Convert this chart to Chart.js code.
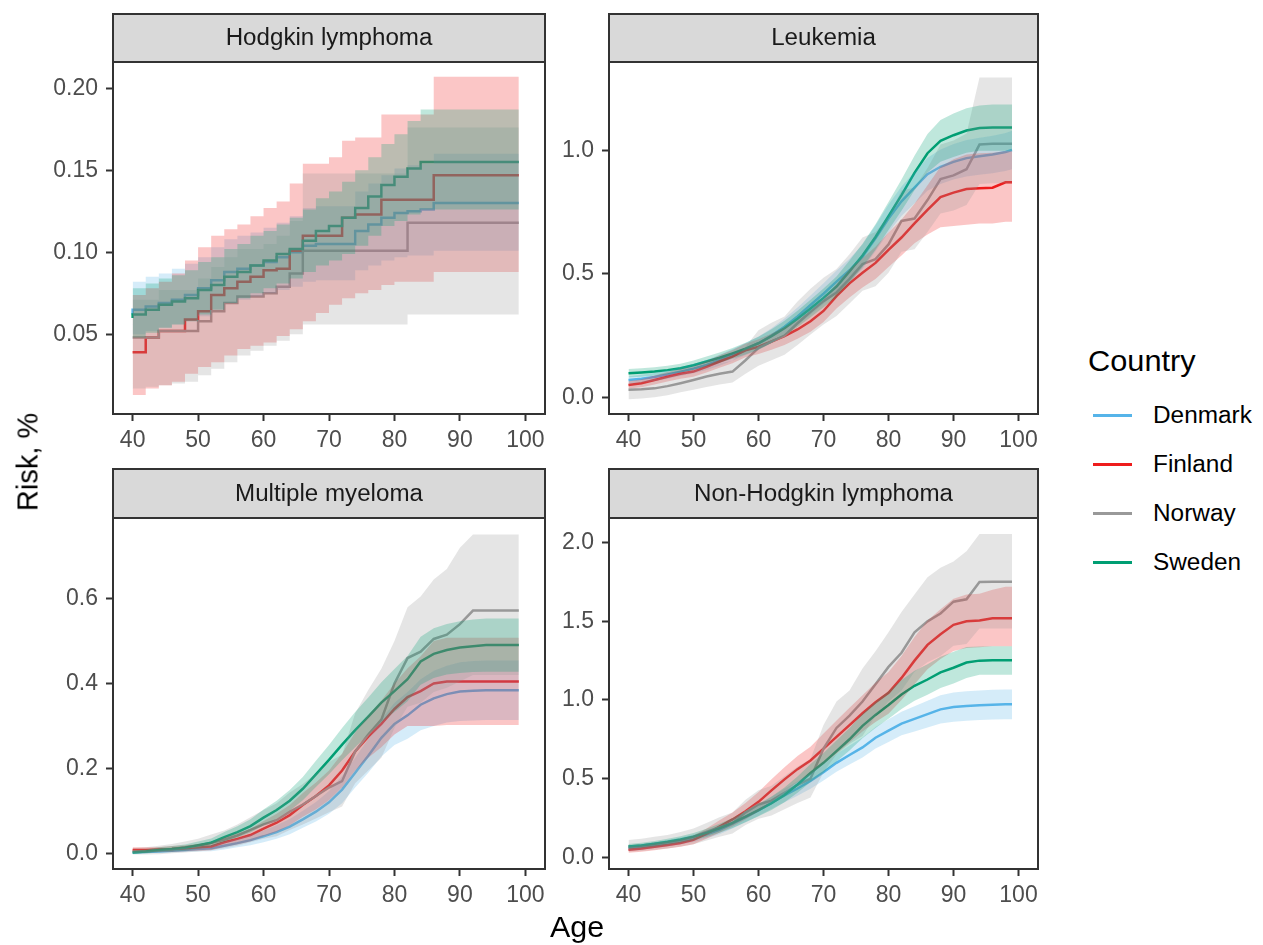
<!DOCTYPE html>
<html>
<head>
<meta charset="utf-8">
<title>Cumulative risk by age and country</title>
<script src="https://cdn.jsdelivr.net/npm/chart.js@4/dist/chart.umd.min.js"></script>
<style>
  body { margin: 0; background: #ffffff; }
  #fig { position: relative; width: 1263px; height: 945px; overflow: hidden;
         font-family: 'Liberation Sans', Arial, Helvetica, sans-serif; background: #ffffff; }
  #fig canvas { position: absolute; }
  .txt { position: absolute; white-space: nowrap; line-height: 1; color: #000; }
  .key { position: absolute; height: 3px; width: 39px; }
</style>
</head>
<body>
<div id="fig">
  <canvas id="c1" width="555" height="465" style="left:0px;top:0px"></canvas>
  <canvas id="c2" width="512" height="465" style="left:548px;top:0px"></canvas>
  <canvas id="c3" width="555" height="480" style="left:0px;top:465px"></canvas>
  <canvas id="c4" width="512" height="480" style="left:548px;top:465px"></canvas>
  <div class="txt" id="ylab" style="font-size:29px;left:28px;top:462px;transform:translate(-50%,-50%) rotate(-90deg);">Risk, %</div>
  <div class="txt" id="xlab" style="font-size:29px;left:577px;top:927px;transform:translate(-50%,-50%) scaleX(1.05);">Age</div>
  <div id="legend"></div>
</div>
<script>
// ---- shared axes and groups ----
const ages = [40, 42, 44, 46, 48, 50, 52, 54, 56, 58, 60, 62, 64, 66, 68, 70, 72, 74, 76, 78, 80, 82, 84, 86, 88, 90, 92, 94, 96, 98, 99];
const xTicks = [40, 50, 60, 70, 80, 90, 100];
const countries = ['Denmark', 'Finland', 'Norway', 'Sweden'];
const countryColors = ['#56B4E9', '#EE1C1C', '#999999', '#009E73'];

// ---- Hodgkin lymphoma ----
const hodgkinDenmark     = [0.062,0.065,0.067,0.069,0.071,0.074,0.078,0.083,0.088,0.090,0.092,0.094,0.097,0.100,0.104,0.105,0.105,0.105,0.113,0.117,0.121,0.124,0.125,0.126,0.130,0.130,0.130,0.130,0.130,0.130,0.130];
const hodgkinDenmarkLow  = [0.048,0.050,0.052,0.054,0.056,0.058,0.061,0.065,0.069,0.071,0.073,0.075,0.077,0.079,0.082,0.083,0.083,0.083,0.089,0.092,0.095,0.097,0.098,0.098,0.101,0.101,0.101,0.101,0.101,0.101,0.101];
const hodgkinDenmarkHigh = [0.079,0.082,0.085,0.087,0.090,0.093,0.097,0.103,0.108,0.110,0.112,0.115,0.118,0.122,0.127,0.128,0.128,0.128,0.137,0.142,0.147,0.151,0.153,0.154,0.160,0.160,0.160,0.160,0.160,0.160,0.160];
const hodgkinFinland     = [0.039,0.039,0.048,0.052,0.052,0.059,0.064,0.074,0.078,0.082,0.085,0.089,0.090,0.101,0.110,0.110,0.110,0.121,0.123,0.123,0.132,0.132,0.132,0.132,0.147,0.147,0.147,0.147,0.147,0.147,0.147];
const hodgkinFinlandLow  = [0.010,0.013,0.017,0.019,0.021,0.026,0.030,0.033,0.037,0.041,0.043,0.045,0.049,0.053,0.058,0.063,0.068,0.072,0.075,0.077,0.080,0.082,0.082,0.082,0.088,0.088,0.088,0.088,0.088,0.088,0.088];
const hodgkinFinlandHigh = [0.072,0.074,0.078,0.082,0.087,0.095,0.103,0.110,0.114,0.117,0.122,0.127,0.131,0.142,0.154,0.154,0.158,0.168,0.170,0.170,0.184,0.184,0.184,0.184,0.207,0.207,0.207,0.207,0.207,0.207,0.207];
const hodgkinNorway      = [0.048,0.048,0.048,0.052,0.052,0.052,0.058,0.064,0.069,0.073,0.073,0.075,0.079,0.087,0.101,0.101,0.101,0.101,0.101,0.101,0.101,0.101,0.118,0.118,0.118,0.118,0.118,0.118,0.118,0.118,0.118];
const hodgkinNorwayLow   = [0.016,0.017,0.018,0.019,0.020,0.021,0.025,0.029,0.033,0.037,0.040,0.043,0.046,0.050,0.056,0.056,0.056,0.056,0.056,0.056,0.056,0.056,0.062,0.062,0.062,0.062,0.062,0.062,0.062,0.062,0.062];
const hodgkinNorwayHigh  = [0.071,0.071,0.071,0.077,0.077,0.077,0.084,0.091,0.097,0.102,0.102,0.105,0.110,0.119,0.148,0.148,0.148,0.148,0.148,0.148,0.148,0.148,0.176,0.176,0.176,0.176,0.176,0.176,0.176,0.176,0.176];
const hodgkinSweden      = [0.060,0.062,0.065,0.068,0.070,0.072,0.077,0.080,0.085,0.088,0.092,0.095,0.099,0.102,0.107,0.113,0.116,0.121,0.127,0.134,0.141,0.146,0.151,0.155,0.155,0.155,0.155,0.155,0.155,0.155,0.155];
const hodgkinSwedenLow   = [0.046,0.048,0.051,0.054,0.056,0.058,0.062,0.065,0.069,0.072,0.075,0.078,0.081,0.084,0.088,0.092,0.095,0.099,0.104,0.110,0.116,0.119,0.123,0.126,0.126,0.126,0.126,0.126,0.126,0.126,0.126];
const hodgkinSwedenHigh  = [0.076,0.078,0.081,0.084,0.086,0.089,0.094,0.097,0.102,0.105,0.110,0.113,0.117,0.121,0.126,0.133,0.137,0.143,0.150,0.158,0.166,0.172,0.180,0.187,0.187,0.187,0.187,0.187,0.187,0.187,0.187];
const hodgkinYTicks  = [0.05, 0.10, 0.15, 0.20];
const hodgkinYLabels = ['0.05', '0.10', '0.15', '0.20'];

// ---- Leukemia ----
const leukemiaDenmark     = [0.070,0.075,0.082,0.092,0.104,0.116,0.131,0.150,0.172,0.195,0.219,0.250,0.286,0.328,0.374,0.420,0.469,0.515,0.570,0.645,0.725,0.795,0.850,0.905,0.935,0.955,0.970,0.978,0.985,0.995,1.003];
const leukemiaDenmarkLow  = [0.055,0.060,0.066,0.075,0.086,0.097,0.111,0.128,0.148,0.170,0.192,0.220,0.253,0.292,0.335,0.378,0.424,0.468,0.520,0.592,0.668,0.735,0.786,0.838,0.865,0.883,0.896,0.903,0.909,0.918,0.925];
const leukemiaDenmarkHigh = [0.085,0.091,0.098,0.109,0.122,0.135,0.151,0.172,0.196,0.220,0.246,0.280,0.319,0.364,0.413,0.462,0.514,0.562,0.620,0.698,0.782,0.855,0.914,0.972,1.005,1.027,1.044,1.053,1.061,1.072,1.081];
const leukemiaFinland     = [0.050,0.057,0.070,0.083,0.095,0.104,0.123,0.145,0.165,0.190,0.205,0.226,0.248,0.275,0.308,0.350,0.410,0.462,0.505,0.545,0.598,0.648,0.705,0.760,0.812,0.830,0.845,0.848,0.850,0.872,0.872];
const leukemiaFinlandLow  = [0.035,0.041,0.052,0.064,0.075,0.083,0.100,0.120,0.138,0.162,0.175,0.193,0.212,0.237,0.266,0.305,0.360,0.405,0.445,0.480,0.528,0.575,0.625,0.660,0.690,0.695,0.700,0.705,0.705,0.712,0.712];
const leukemiaFinlandHigh = [0.065,0.073,0.088,0.102,0.115,0.125,0.146,0.170,0.192,0.218,0.235,0.259,0.284,0.313,0.350,0.395,0.460,0.519,0.565,0.610,0.668,0.721,0.785,0.860,0.935,0.965,0.985,0.990,0.992,0.998,0.998];
const leukemiaNorway      = [0.030,0.032,0.036,0.045,0.057,0.070,0.084,0.095,0.104,0.150,0.200,0.226,0.250,0.300,0.347,0.390,0.425,0.480,0.540,0.560,0.620,0.715,0.725,0.800,0.885,0.900,0.925,1.025,1.028,1.028,1.028];
const leukemiaNorwayLow   = [-0.008,-0.005,0.000,0.008,0.020,0.030,0.042,0.052,0.060,0.095,0.128,0.150,0.172,0.212,0.255,0.295,0.330,0.380,0.432,0.450,0.505,0.590,0.600,0.670,0.745,0.758,0.780,0.865,0.868,0.868,0.868];
const leukemiaNorwayHigh  = [0.068,0.070,0.074,0.084,0.096,0.110,0.126,0.138,0.148,0.205,0.272,0.302,0.328,0.388,0.440,0.485,0.520,0.580,0.648,0.670,0.735,0.840,0.850,0.930,1.025,1.042,1.070,1.297,1.297,1.297,1.297];
const leukemiaSweden      = [0.097,0.100,0.104,0.110,0.118,0.130,0.145,0.160,0.178,0.197,0.219,0.248,0.280,0.318,0.360,0.403,0.449,0.510,0.575,0.650,0.735,0.820,0.910,0.990,1.040,1.063,1.082,1.092,1.094,1.094,1.094];
const leukemiaSwedenLow   = [0.080,0.083,0.087,0.093,0.100,0.111,0.125,0.139,0.156,0.173,0.193,0.220,0.250,0.285,0.325,0.365,0.408,0.465,0.527,0.598,0.678,0.757,0.840,0.912,0.955,0.975,0.992,1.000,1.000,1.000,1.000];
const leukemiaSwedenHigh  = [0.115,0.118,0.122,0.128,0.136,0.149,0.165,0.181,0.200,0.221,0.245,0.276,0.310,0.351,0.395,0.441,0.490,0.555,0.623,0.702,0.792,0.883,0.980,1.068,1.125,1.151,1.172,1.184,1.188,1.188,1.188];
const leukemiaYTicks  = [0.0, 0.5, 1.0];
const leukemiaYLabels = ['0.0', '0.5', '1.0'];

// ---- Multiple myeloma ----
const myelomaDenmark     = [0.002,0.003,0.004,0.006,0.008,0.010,0.012,0.018,0.024,0.031,0.040,0.050,0.063,0.080,0.098,0.120,0.150,0.190,0.230,0.272,0.305,0.325,0.350,0.365,0.375,0.381,0.383,0.384,0.384,0.384,0.384];
const myelomaDenmarkLow  = [0.000,0.001,0.001,0.002,0.003,0.004,0.005,0.009,0.014,0.019,0.026,0.034,0.045,0.060,0.075,0.093,0.118,0.155,0.190,0.228,0.255,0.270,0.290,0.300,0.308,0.312,0.313,0.314,0.314,0.314,0.314];
const myelomaDenmarkHigh = [0.004,0.005,0.007,0.010,0.013,0.016,0.019,0.027,0.034,0.043,0.054,0.066,0.081,0.100,0.121,0.147,0.182,0.225,0.270,0.316,0.355,0.380,0.410,0.430,0.442,0.450,0.453,0.454,0.454,0.454,0.454];
const myelomaFinland     = [0.008,0.008,0.009,0.010,0.012,0.014,0.016,0.026,0.034,0.043,0.058,0.072,0.090,0.114,0.135,0.160,0.195,0.240,0.275,0.305,0.340,0.368,0.382,0.400,0.405,0.405,0.405,0.405,0.405,0.405,0.405];
const myelomaFinlandLow  = [0.002,0.002,0.003,0.003,0.005,0.006,0.007,0.015,0.021,0.028,0.040,0.051,0.066,0.086,0.103,0.125,0.155,0.195,0.225,0.250,0.280,0.300,0.300,0.300,0.302,0.302,0.302,0.302,0.302,0.302,0.302];
const myelomaFinlandHigh = [0.014,0.014,0.015,0.017,0.019,0.022,0.025,0.037,0.047,0.058,0.076,0.093,0.114,0.142,0.167,0.195,0.235,0.285,0.325,0.360,0.400,0.436,0.464,0.500,0.508,0.508,0.508,0.508,0.508,0.508,0.508];
const myelomaNorway      = [0.004,0.005,0.007,0.010,0.014,0.018,0.025,0.032,0.042,0.055,0.068,0.078,0.098,0.115,0.135,0.155,0.170,0.240,0.280,0.315,0.400,0.460,0.475,0.505,0.515,0.540,0.572,0.572,0.572,0.572,0.572];
const myelomaNorwayLow   = [-0.003,-0.003,-0.002,0.000,0.002,0.004,0.008,0.012,0.018,0.026,0.034,0.040,0.055,0.068,0.082,0.097,0.110,0.165,0.195,0.225,0.295,0.345,0.355,0.380,0.390,0.405,0.420,0.420,0.420,0.420,0.420];
const myelomaNorwayHigh  = [0.012,0.014,0.018,0.022,0.028,0.034,0.044,0.054,0.068,0.085,0.102,0.118,0.143,0.163,0.188,0.215,0.233,0.330,0.385,0.435,0.500,0.580,0.605,0.645,0.670,0.720,0.751,0.751,0.751,0.751,0.751];
const myelomaSweden      = [0.002,0.004,0.008,0.010,0.013,0.019,0.025,0.038,0.050,0.064,0.084,0.102,0.124,0.152,0.186,0.220,0.256,0.290,0.322,0.355,0.382,0.410,0.452,0.470,0.479,0.485,0.488,0.491,0.491,0.491,0.491];
const myelomaSwedenLow   = [-0.001,0.000,0.003,0.004,0.006,0.011,0.016,0.027,0.037,0.049,0.066,0.081,0.100,0.125,0.156,0.186,0.219,0.250,0.280,0.309,0.333,0.358,0.397,0.413,0.421,0.425,0.427,0.428,0.428,0.428,0.428];
const myelomaSwedenHigh  = [0.006,0.009,0.014,0.017,0.021,0.028,0.035,0.050,0.064,0.080,0.103,0.124,0.149,0.180,0.218,0.255,0.295,0.333,0.367,0.403,0.434,0.465,0.510,0.530,0.540,0.547,0.551,0.553,0.553,0.553,0.553];
const myelomaYTicks  = [0.0, 0.2, 0.4, 0.6];
const myelomaYLabels = ['0.0', '0.2', '0.4', '0.6'];

// ---- Non-Hodgkin lymphoma ----
const nhlDenmark     = [0.057,0.066,0.077,0.089,0.104,0.121,0.146,0.174,0.214,0.255,0.298,0.345,0.393,0.437,0.485,0.540,0.600,0.650,0.698,0.760,0.805,0.850,0.880,0.910,0.940,0.955,0.962,0.966,0.970,0.972,0.972];
const nhlDenmarkLow  = [0.040,0.048,0.058,0.068,0.082,0.097,0.120,0.146,0.183,0.222,0.262,0.306,0.350,0.391,0.436,0.487,0.543,0.590,0.634,0.692,0.733,0.775,0.800,0.825,0.850,0.862,0.868,0.872,0.875,0.877,0.877];
const nhlDenmarkHigh = [0.074,0.084,0.096,0.110,0.126,0.145,0.172,0.202,0.245,0.288,0.334,0.384,0.436,0.483,0.534,0.593,0.657,0.710,0.762,0.828,0.877,0.925,0.960,0.995,1.030,1.048,1.056,1.060,1.065,1.067,1.067];
const nhlFinland     = [0.047,0.055,0.066,0.078,0.090,0.110,0.150,0.195,0.240,0.292,0.352,0.425,0.495,0.560,0.615,0.690,0.765,0.840,0.915,0.985,1.045,1.140,1.250,1.350,1.418,1.478,1.500,1.505,1.520,1.520,1.520];
const nhlFinlandLow  = [0.028,0.035,0.045,0.055,0.066,0.083,0.118,0.155,0.195,0.240,0.290,0.355,0.418,0.476,0.527,0.593,0.660,0.730,0.800,0.860,0.912,1.000,1.100,1.195,1.260,1.312,1.330,1.335,1.342,1.342,1.342];
const nhlFinlandHigh = [0.066,0.075,0.087,0.101,0.114,0.137,0.182,0.235,0.285,0.344,0.414,0.495,0.572,0.644,0.703,0.787,0.870,0.950,1.030,1.110,1.178,1.280,1.400,1.505,1.576,1.644,1.670,1.675,1.700,1.720,1.720];
const nhlNorway      = [0.068,0.075,0.085,0.095,0.110,0.130,0.160,0.190,0.215,0.285,0.335,0.360,0.410,0.460,0.500,0.690,0.822,0.900,0.990,1.100,1.210,1.300,1.430,1.500,1.550,1.625,1.640,1.750,1.752,1.752,1.752];
const nhlNorwayLow   = [0.035,0.040,0.048,0.056,0.068,0.083,0.106,0.130,0.150,0.205,0.245,0.265,0.305,0.345,0.380,0.540,0.655,0.720,0.770,0.900,0.990,1.060,1.180,1.240,1.280,1.345,1.355,1.455,1.455,1.455,1.455];
const nhlNorwayHigh  = [0.110,0.118,0.130,0.142,0.160,0.183,0.218,0.254,0.284,0.365,0.425,0.455,0.515,0.575,0.625,0.840,0.990,1.060,1.200,1.310,1.430,1.560,1.670,1.780,1.840,1.880,1.945,2.055,2.055,2.055,2.055];
const nhlSweden      = [0.068,0.075,0.085,0.098,0.113,0.131,0.155,0.184,0.218,0.258,0.300,0.343,0.396,0.462,0.535,0.600,0.675,0.750,0.835,0.905,0.968,1.035,1.090,1.130,1.175,1.205,1.238,1.250,1.252,1.252,1.252];
const nhlSwedenLow   = [0.052,0.058,0.067,0.079,0.092,0.108,0.129,0.155,0.186,0.222,0.261,0.300,0.349,0.410,0.478,0.538,0.608,0.678,0.757,0.822,0.880,0.943,0.995,1.033,1.076,1.104,1.140,1.160,1.160,1.160,1.160];
const nhlSwedenHigh  = [0.084,0.092,0.103,0.117,0.134,0.154,0.181,0.213,0.250,0.294,0.339,0.386,0.443,0.514,0.592,0.662,0.742,0.822,0.913,0.988,1.056,1.127,1.185,1.227,1.274,1.306,1.336,1.340,1.342,1.342,1.342];
const nhlYTicks  = [0.0, 0.5, 1.0, 1.5, 2.0];
const nhlYLabels = ['0.0', '0.5', '1.0', '1.5', '2.0'];

// ---- drawing ----
const FONT = "'Liberation Sans', Arial, Helvetica, sans-serif";
const INK = '#333333';
Chart.defaults.font.family = FONT;

function rgba(hex, a) {
  const n = parseInt(hex.slice(1), 16);
  return 'rgba(' + ((n >> 16) & 255) + ',' + ((n >> 8) & 255) + ',' + (n & 255) + ',' + a + ')';
}

const facets = [
  { id: 'c1', title: 'Hodgkin lymphoma', stepped: 'after', yMin: 0.0014, yMax: 0.216,
    yTicks: hodgkinYTicks, yLabels: hodgkinYLabels,
    series: [[hodgkinDenmark, hodgkinDenmarkLow, hodgkinDenmarkHigh],
             [hodgkinFinland, hodgkinFinlandLow, hodgkinFinlandHigh],
             [hodgkinNorway, hodgkinNorwayLow, hodgkinNorwayHigh],
             [hodgkinSweden, hodgkinSwedenLow, hodgkinSwedenHigh]],
    box: { yAxisW: 113, padTop: 62, padRight: 10, xAxisH: 51, stripH: 48 } },
  { id: 'c2', title: 'Leukemia', stepped: false, yMin: -0.068, yMax: 1.36,
    yTicks: leukemiaYTicks, yLabels: leukemiaYLabels,
    series: [[leukemiaDenmark, leukemiaDenmarkLow, leukemiaDenmarkHigh],
             [leukemiaFinland, leukemiaFinlandLow, leukemiaFinlandHigh],
             [leukemiaNorway, leukemiaNorwayLow, leukemiaNorwayHigh],
             [leukemiaSweden, leukemiaSwedenLow, leukemiaSwedenHigh]],
    box: { yAxisW: 61, padTop: 62, padRight: 22, xAxisH: 51, stripH: 48 } },
  { id: 'c3', title: 'Multiple myeloma', stepped: false, yMin: -0.037, yMax: 0.79,
    yTicks: myelomaYTicks, yLabels: myelomaYLabels,
    series: [[myelomaDenmark, myelomaDenmarkLow, myelomaDenmarkHigh],
             [myelomaFinland, myelomaFinlandLow, myelomaFinlandHigh],
             [myelomaNorway, myelomaNorwayLow, myelomaNorwayHigh],
             [myelomaSweden, myelomaSwedenLow, myelomaSwedenHigh]],
    box: { yAxisW: 113, padTop: 53, padRight: 10, xAxisH: 76, stripH: 49 } },
  { id: 'c4', title: 'Non-Hodgkin lymphoma', stepped: false, yMin: -0.075, yMax: 2.157,
    yTicks: nhlYTicks, yLabels: nhlYLabels,
    series: [[nhlDenmark, nhlDenmarkLow, nhlDenmarkHigh],
             [nhlFinland, nhlFinlandLow, nhlFinlandHigh],
             [nhlNorway, nhlNorwayLow, nhlNorwayHigh],
             [nhlSweden, nhlSwedenLow, nhlSwedenHigh]],
    box: { yAxisW: 61, padTop: 53, padRight: 22, xAxisH: 76, stripH: 49 } }
];

function points(values) {
  return ages.map((a, i) => ({ x: a, y: values[i] }));
}

function buildDatasets(f) {
  const ds = [];
  // confidence bands: lower edge, then upper edge filled down to it
  f.series.forEach((s, k) => {
    const c = countryColors[k];
    ds.push({ label: countries[k] + ' lower', data: points(s[1]), borderColor: 'transparent',
              borderWidth: 0, pointRadius: 0, fill: false, stepped: f.stepped, order: 4 - k });
    ds.push({ label: countries[k] + ' upper', data: points(s[2]), borderColor: 'transparent',
              borderWidth: 0, pointRadius: 0, fill: '-1', backgroundColor: rgba(c, 0.25),
              stepped: f.stepped, order: 4 - k });
  });
  // risk curves sit under the bands, Denmark first
  f.series.forEach((s, k) => {
    ds.push({ label: countries[k], data: points(s[0]), borderColor: countryColors[k],
              borderWidth: 2.5, pointRadius: 0, fill: false, stepped: f.stepped, order: 8 - k });
  });
  return ds;
}

function stripPlugin(title, stripH) {
  return {
    id: 'facetStrip',
    afterDraw(chart) {
      const a = chart.chartArea;
      const ctx = chart.ctx;
      ctx.save();
      ctx.lineWidth = 2;
      ctx.strokeStyle = INK;
      // panel frame
      ctx.strokeRect(a.left, a.top, a.right - a.left, a.bottom - a.top);
      // strip
      ctx.fillStyle = '#D9D9D9';
      ctx.fillRect(a.left, a.top - stripH, a.right - a.left, stripH);
      ctx.strokeRect(a.left, a.top - stripH, a.right - a.left, stripH);
      ctx.fillStyle = '#1A1A1A';
      ctx.font = '23px ' + FONT;
      ctx.textAlign = 'center';
      ctx.textBaseline = 'middle';
      ctx.translate((a.left + a.right) / 2, a.top - stripH / 2 + 1);
      ctx.scale(1.05, 1);
      ctx.fillText(title, 0, 0);
      ctx.restore();
    }
  };
}

facets.forEach(f => {
  const b = f.box;
  new Chart(document.getElementById(f.id), {
    type: 'line',
    data: { datasets: buildDatasets(f) },
    plugins: [stripPlugin(f.title, b.stripH)],
    options: {
      responsive: false,
      animation: false,
      devicePixelRatio: 1,
      layout: { padding: { top: b.padTop, right: b.padRight, left: 0, bottom: 0 } },
      plugins: { legend: { display: false }, tooltip: { enabled: false } },
      elements: { point: { radius: 0 }, line: { tension: 0 } },
      scales: {
        x: {
          type: 'linear', min: 37, max: 103,
          afterBuildTicks: s => { s.ticks = xTicks.map(v => ({ value: v })); },
          afterFit: s => { s.height = b.xAxisH; s.paddingLeft = 0; s.paddingRight = 0; },
          ticks: { color: '#4D4D4D', font: { size: 23 }, padding: 6, maxRotation: 0, autoSkip: false,
                   callback: v => String(v) },
          grid: { display: true, drawOnChartArea: false, drawTicks: true, tickLength: 7,
                  tickWidth: 2, tickColor: INK },
          border: { display: false }
        },
        y: {
          type: 'linear', min: f.yMin, max: f.yMax,
          afterBuildTicks: s => { s.ticks = f.yTicks.map(v => ({ value: v })); },
          afterFit: s => { s.width = b.yAxisW; s.paddingTop = 0; s.paddingBottom = 0; },
          ticks: { color: '#4D4D4D', font: { size: 23 }, padding: 8, autoSkip: false,
                   callback: (v, i) => f.yLabels[i] },
          grid: { display: true, drawOnChartArea: false, drawTicks: true, tickLength: 7,
                  tickWidth: 2, tickColor: INK },
          border: { display: false }
        }
      }
    }
  });
});

// ---- legend ----
const legend = document.getElementById('legend');
const title = document.createElement('div');
title.className = 'txt';
title.textContent = 'Country';
title.style.cssText = 'font-size:29px;left:1088px;top:347px;transform-origin:0 0;transform:scaleX(1.06);';
legend.appendChild(title);
const keyY = [415, 464, 513, 562];
countries.forEach((name, k) => {
  const key = document.createElement('div');
  key.className = 'key';
  key.style.left = '1093px';
  key.style.top = (keyY[k] - 1.5) + 'px';
  key.style.background = countryColors[k];
  legend.appendChild(key);
  const lab = document.createElement('div');
  lab.className = 'txt';
  lab.textContent = name;
  lab.style.cssText = 'font-size:23px;left:1153px;top:' + (keyY[k] - 11.5) + 'px;transform-origin:0 0;transform:scaleX(1.06);';
  legend.appendChild(lab);
});
</script>
</body>
</html>
